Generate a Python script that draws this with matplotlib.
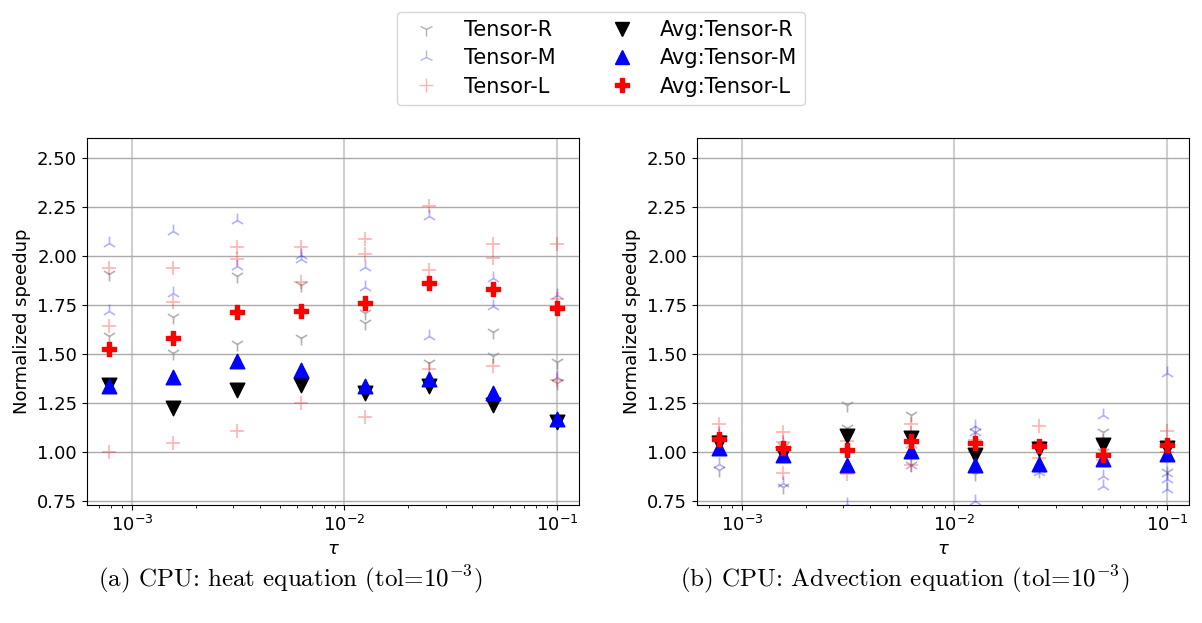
import numpy as np
import matplotlib
matplotlib.use("Agg")
import matplotlib.pyplot as plt
from matplotlib.lines import Line2D

fs = 13

# step sizes
tau = [0.00078125, 0.0015625, 0.003125, 0.00625, 0.0125, 0.025, 0.05, 0.1]

# (a) heat equation: single runs per tau
heat_R = [[1.91, 1.59], [1.69, 1.505], [1.90, 1.553], [1.85, 1.582],
          [1.71, 1.66], [1.454], [1.61, 1.488], [1.457, 1.352]]
heat_M = [[2.066, 1.717], [2.126, 1.811], [2.185, 1.95], [2.007, 1.986],
          [1.942, 1.84], [2.206, 1.593], [1.888, 1.743], [1.803, 1.383]]
heat_L = [[1.939, 1.644, 1.00], [1.939, 1.763, 1.046], [2.049, 1.985, 1.105],
          [2.049, 1.87, 1.25], [2.088, 2.012, 1.179], [2.257, 1.927, 1.423],
          [2.063, 1.99, 1.44], [2.063, 1.78, 1.369]]
heat_avg_R = [1.343, 1.224, 1.318, 1.34, 1.301, 1.335, 1.241, 1.151]
heat_avg_M = [1.335, 1.383, 1.462, 1.42, 1.338, 1.374, 1.298, 1.165]
heat_avg_L = [1.527, 1.582, 1.712, 1.722, 1.760, 1.865, 1.832, 1.735]

# (b) advection equation
adv_R = [[0.905, 1.05], [0.818, 1.03], [1.241, 1.122], [1.19, 0.93],
         [1.10, 0.884], [0.90, 1.04], [1.10, 1.0], [0.896, 1.04]]
adv_M = [[1.097, 0.94], [0.84, 1.04], [0.735], [0.93, 1.04],
         [1.134, 1.10, 0.748], [0.896, 0.91], [1.19, 0.876, 0.825],
         [1.403, 0.89, 0.859, 0.808]]
adv_L = [[1.144, 1.08], [1.102, 0.893, 1.05], [1.054, 0.884], [1.143, 1.097, 0.93],
         [1.06, 1.0], [1.134, 0.97], [1.054, 0.96], [1.105, 1.0]]
adv_avg_R = [1.044, 0.99, 1.08, 1.071, 0.986, 1.015, 1.034, 1.02]
adv_avg_M = [1.02, 0.985, 0.93, 1.003, 0.93, 0.935, 0.964, 0.99]
adv_avg_L = [1.063, 1.02, 1.008, 1.054, 1.046, 1.029, 0.981, 1.037]

labels = ["Tensor-R", "Tensor-M", "Tensor-L",
          "Avg:Tensor-R", "Avg:Tensor-M", "Avg:Tensor-L"]
captions = [r"(a) CPU: heat equation (tol=10$^{-3}$)",
            r"(b) CPU: Advection equation (tol=10$^{-3}$)"]
cap_x = [0.241, 0.753]

run_style = [dict(marker="1", color="gray", alpha=0.6),
             dict(marker="2", color="blue", alpha=0.3),
             dict(marker="+", color="red", alpha=0.3)]
avg_style = [dict(marker="v", color="black"),
             dict(marker="^", color="blue"),
             dict(marker="P", color="red")]


def flat(t, runs):
    xs, ys = [], []
    for ti, r in zip(t, runs):
        xs += [ti] * len(r)
        ys += list(r)
    return xs, ys


fig = plt.figure(figsize=(12.02, 6.23), dpi=100)
axes = [fig.add_axes([0.0721, 0.1894, 0.410, 0.5886]),
        fig.add_axes([0.5796, 0.1894, 0.410, 0.5886])]

sets = [(heat_R, heat_M, heat_L, heat_avg_R, heat_avg_M, heat_avg_L),
        (adv_R, adv_M, adv_L, adv_avg_R, adv_avg_M, adv_avg_L)]

for ax, data, cap, cx in zip(axes, sets, captions, cap_x):
    for runs, st in zip(data[:3], run_style):
        xs, ys = flat(tau, runs)
        ax.scatter(xs, ys, s=100, linewidths=1.2, zorder=3, **st)
    for avg, st in zip(data[3:], avg_style):
        ax.scatter(tau, avg, s=110, zorder=4, **st)
    ax.set_xscale("log")
    ax.set_ylim(0.728, 2.602)
    ax.set_yticks(np.arange(0.75, 2.51, 0.25))
    ax.grid(True, axis="x", color="#cfcfcf", lw=1.5)
    ax.grid(True, axis="y", color="#ababab", lw=1.0)
    ax.set_axisbelow(True)
    ax.tick_params(labelsize=fs)
    ax.set_xlabel(r"$\tau$", fontsize=fs)
    ax.set_ylabel("Normalized speedup", fontsize=fs)
    fig.text(cx, 0.07, cap, fontsize=18,
             family="cmr10", math_fontfamily="cm", ha="center", va="center")

handles = [Line2D([], [], ls="none", ms=10, **st) for st in run_style]
handles += [Line2D([], [], ls="none", ms=10, **st) for st in avg_style]
fig.legend(handles, labels, loc="upper center", bbox_to_anchor=(0.5, 0.998),
           ncol=2, fontsize=15, columnspacing=2.2, labelspacing=0.4)

plt.savefig("out.png", dpi=100)
